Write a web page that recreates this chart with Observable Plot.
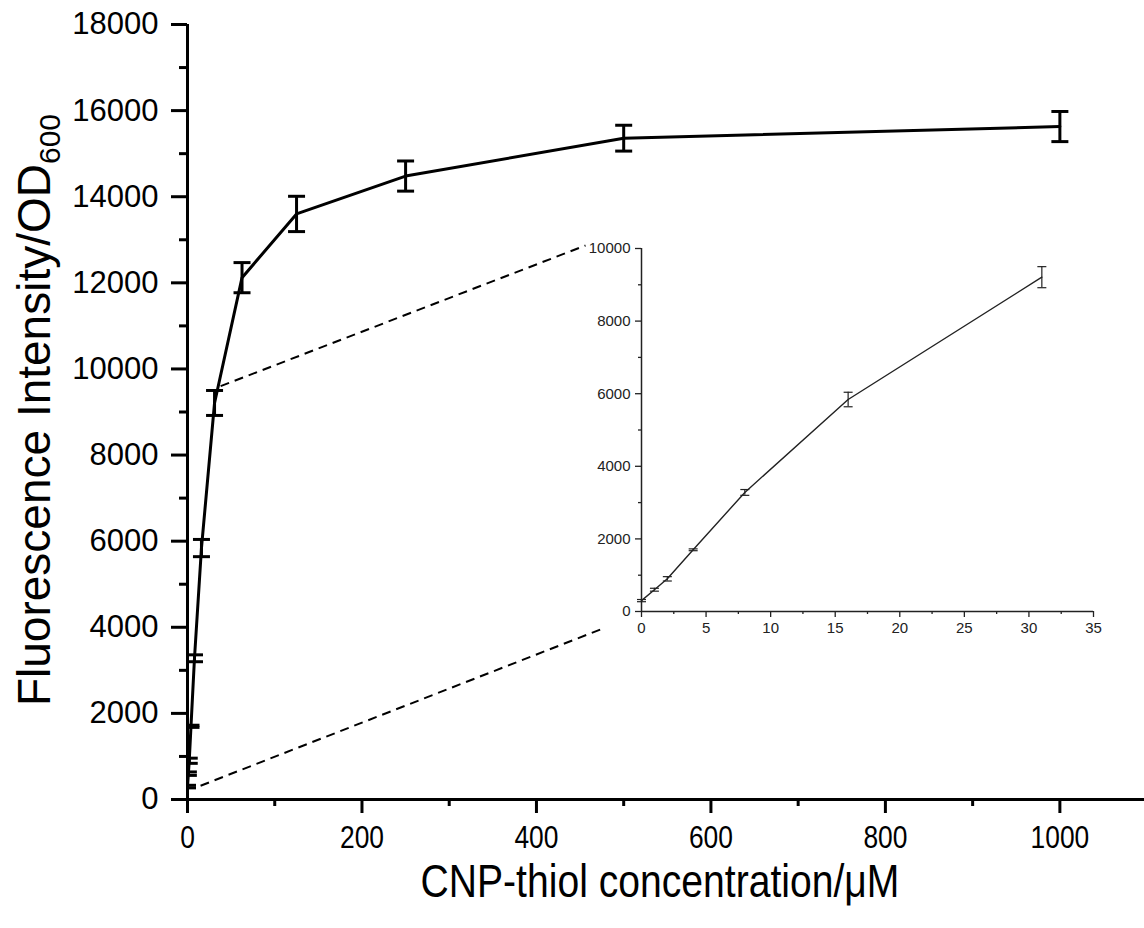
<!DOCTYPE html>
<html><head><meta charset="utf-8">
<script src="https://cdn.jsdelivr.net/npm/d3@7"></script>
<script src="https://cdn.jsdelivr.net/npm/@observablehq/plot@0.6"></script>
<style>
html,body{margin:0;padding:0;background:#fff;}
#wrap{position:relative;width:1144px;height:928px;overflow:hidden;background:#fff;}
#insetBox{position:absolute;}
</style></head><body><div id="wrap"></div>
<script>
// ---- data ----
const concentration = [0, 1, 2, 4, 8, 16, 31, 62.5, 125, 250, 500, 1000];
const intensity = [300, 600, 900, 1700, 3280, 5840, 9210, 12120, 13600, 14480, 15360, 15630];
const errorSD = [30, 40, 60, 25, 80, 200, 290, 350, 410, 350, 300, 350];
const mainYTicks = [0, 2000, 4000, 6000, 8000, 10000, 12000, 14000, 16000, 18000];
const mainYMinor = [1000, 3000, 5000, 7000, 9000, 11000, 13000, 15000, 17000];
const mainXTicks = [0, 200, 400, 600, 800, 1000];
const mainXMinor = [100, 300, 500, 700, 900];
const insetYTicks = [0, 2000, 4000, 6000, 8000, 10000];
const insetYMinor = [1000, 3000, 5000, 7000, 9000];
const insetXTicks = [0, 5, 10, 15, 20, 25, 30, 35];
const insetXMinor = [2.5, 7.5, 12.5, 17.5, 22.5, 27.5, 32.5];
const insetMaxConc = 31;
const xTitle = "CNP-thiol concentration/\u03bcM";
const yTitle = "Fluorescence Intensity/OD";
const yTitleSub = "600";

const data = concentration.map((c, i) => ({x: c, y: intensity[i], e: errorSD[i]}));
const insetData = data.filter(d => d.x <= insetMaxConc);

// ---- layout ----
const W = 1144, H = 928;
const M = {left: 187, right: 0, top: 24, bottom: 129};
const xDom = [0, 1097], yDom = [0, 18000];
const IN = {left: 581, top: 238, width: 532, height: 408, ml: 60, mr: 20, mt: 10, mb: 35};
const FONT = "'Liberation Sans', Arial, Helvetica, sans-serif";
const NARROW_RATIO = 0.85;

const cap = hw => ({draw(ctx) { ctx.moveTo(-hw, 0); ctx.lineTo(hw, 0); }});

// main scales (same as the plot's) to place the zoom connectors
const sx = Plot.scale({x: {domain: xDom, range: [M.left, W - M.right]}});
const sy = Plot.scale({y: {domain: yDom, range: [H - M.bottom, M.top]}});
const insetOriginPx = [IN.left + IN.ml, IN.top + IN.height - IN.mb];
const insetTopPx = [IN.left + IN.ml, IN.top + IN.mt];
const connectors = [
  {x1: 38, y1: 9600, x2: sx.invert(insetTopPx[0] - 56), y2: sy.invert(insetTopPx[1] - 3)},
  {x1: 15, y1: 320, x2: sx.invert(insetOriginPx[0] - 36), y2: sy.invert(insetOriginPx[1] + 16)}
];

const main = Plot.plot({
  width: W, height: H,
  marginLeft: M.left, marginRight: M.right, marginTop: M.top, marginBottom: M.bottom,
  x: {domain: xDom}, y: {domain: yDom},
  style: {fontFamily: FONT, background: "white", color: "black", overflow: "visible"},
  marks: [
    Plot.link(connectors, {x1: "x1", y1: "y1", x2: "x2", y2: "y2", stroke: "black", strokeWidth: 2, strokeDasharray: "9,6"}),
    Plot.axisY({ticks: mainYTicks, tickSize: 16, tickPadding: 13, fontSize: 31, strokeWidth: 3, tickFormat: d => String(d), label: null}),
    Plot.axisY({ticks: mainYMinor, tickSize: 8, text: null, strokeWidth: 3, label: null}),
    Plot.axisX({ticks: mainXTicks, tickSize: 14, tickPadding: 12, fontSize: 31, strokeWidth: 3, tickFormat: d => String(d), label: null}),
    Plot.axisX({ticks: mainXMinor, tickSize: 7, text: null, strokeWidth: 3, label: null}),
    Plot.ruleX([0], {stroke: "black", strokeWidth: 3}),
    Plot.ruleY([0], {stroke: "black", strokeWidth: 3}),
    Plot.line(data, {x: "x", y: "y", stroke: "black", strokeWidth: 3}),
    Plot.ruleX(data, {x: "x", y1: d => d.y - d.e, y2: d => d.y + d.e, stroke: "black", strokeWidth: 3, clip: true}),
    Plot.dot(data, {x: "x", y: d => d.y - d.e, symbol: cap(8.5), stroke: "black", strokeWidth: 3, fill: "none", clip: true}),
    Plot.dot(data, {x: "x", y: d => d.y + d.e, symbol: cap(8.5), stroke: "black", strokeWidth: 3, fill: "none", clip: true})
  ]
});

// axis titles
const svg = d3.select(main);
svg.append("text")
  .attr("transform", "translate(50,410) rotate(-90)")
  .attr("text-anchor", "middle")
  .attr("font-family", FONT).attr("font-size", 46).attr("fill", "black")
  .call(t => { t.append("tspan").text(yTitle); t.append("tspan").attr("font-size", 30).attr("dy", 10).text(yTitleSub); });
const xt = svg.append("text")
  .attr("class", "narrow")
  .attr("x", 660).attr("y", 897)
  .attr("text-anchor", "middle")
  .attr("font-family", FONT).attr("font-size", 46).attr("fill", "black")
  .text(xTitle);

const inset = Plot.plot({
  width: IN.width, height: IN.height,
  marginLeft: IN.ml, marginRight: IN.mr, marginTop: IN.mt, marginBottom: IN.mb,
  x: {domain: [0, 35]}, y: {domain: [0, 10000]},
  style: {fontFamily: FONT, background: "transparent", color: "#222", overflow: "visible"},
  marks: [
    Plot.axisY({ticks: insetYTicks, tickSize: 6, tickPadding: 5, fontSize: 15, strokeWidth: 1.3, tickFormat: d => String(d), label: null}),
    Plot.axisY({ticks: insetYMinor, tickSize: 3, text: null, strokeWidth: 1.3, label: null}),
    Plot.axisX({ticks: insetXTicks, tickSize: 6, tickPadding: 5, fontSize: 15, strokeWidth: 1.3, tickFormat: d => String(d), label: null}),
    Plot.axisX({ticks: insetXMinor, tickSize: 3, text: null, strokeWidth: 1.3, label: null}),
    Plot.ruleX([0], {stroke: "#222", strokeWidth: 1.5}),
    Plot.ruleY([0], {stroke: "#222", strokeWidth: 1.5}),
    Plot.line(insetData, {x: "x", y: "y", stroke: "#222", strokeWidth: 1.4}),
    Plot.ruleX(insetData, {x: "x", y1: d => d.y - d.e, y2: d => d.y + d.e, stroke: "#222", strokeWidth: 1.2}),
    Plot.dot(insetData, {x: "x", y: d => d.y - d.e, symbol: cap(4.5), stroke: "#222", strokeWidth: 1.2, fill: "none"}),
    Plot.dot(insetData, {x: "x", y: d => d.y + d.e, symbol: cap(4.5), stroke: "#222", strokeWidth: 1.2, fill: "none"})
  ]
});

const wrap = document.getElementById("wrap");
wrap.appendChild(main);
const box = document.createElement("div");
box.id = "insetBox";
box.style.left = IN.left + "px";
box.style.top = IN.top + "px";
box.appendChild(inset);
wrap.appendChild(box);

// the reference's x-axis texts are horizontally condensed
const condense = el => {
  const len = el.getComputedTextLength();
  el.setAttribute("textLength", (len * NARROW_RATIO).toFixed(1));
  el.setAttribute("lengthAdjust", "spacingAndGlyphs");
};
svg.selectAll('g[aria-label="x-axis tick label"] text').each(function() { condense(this); });
condense(xt.node());
</script></body></html>
